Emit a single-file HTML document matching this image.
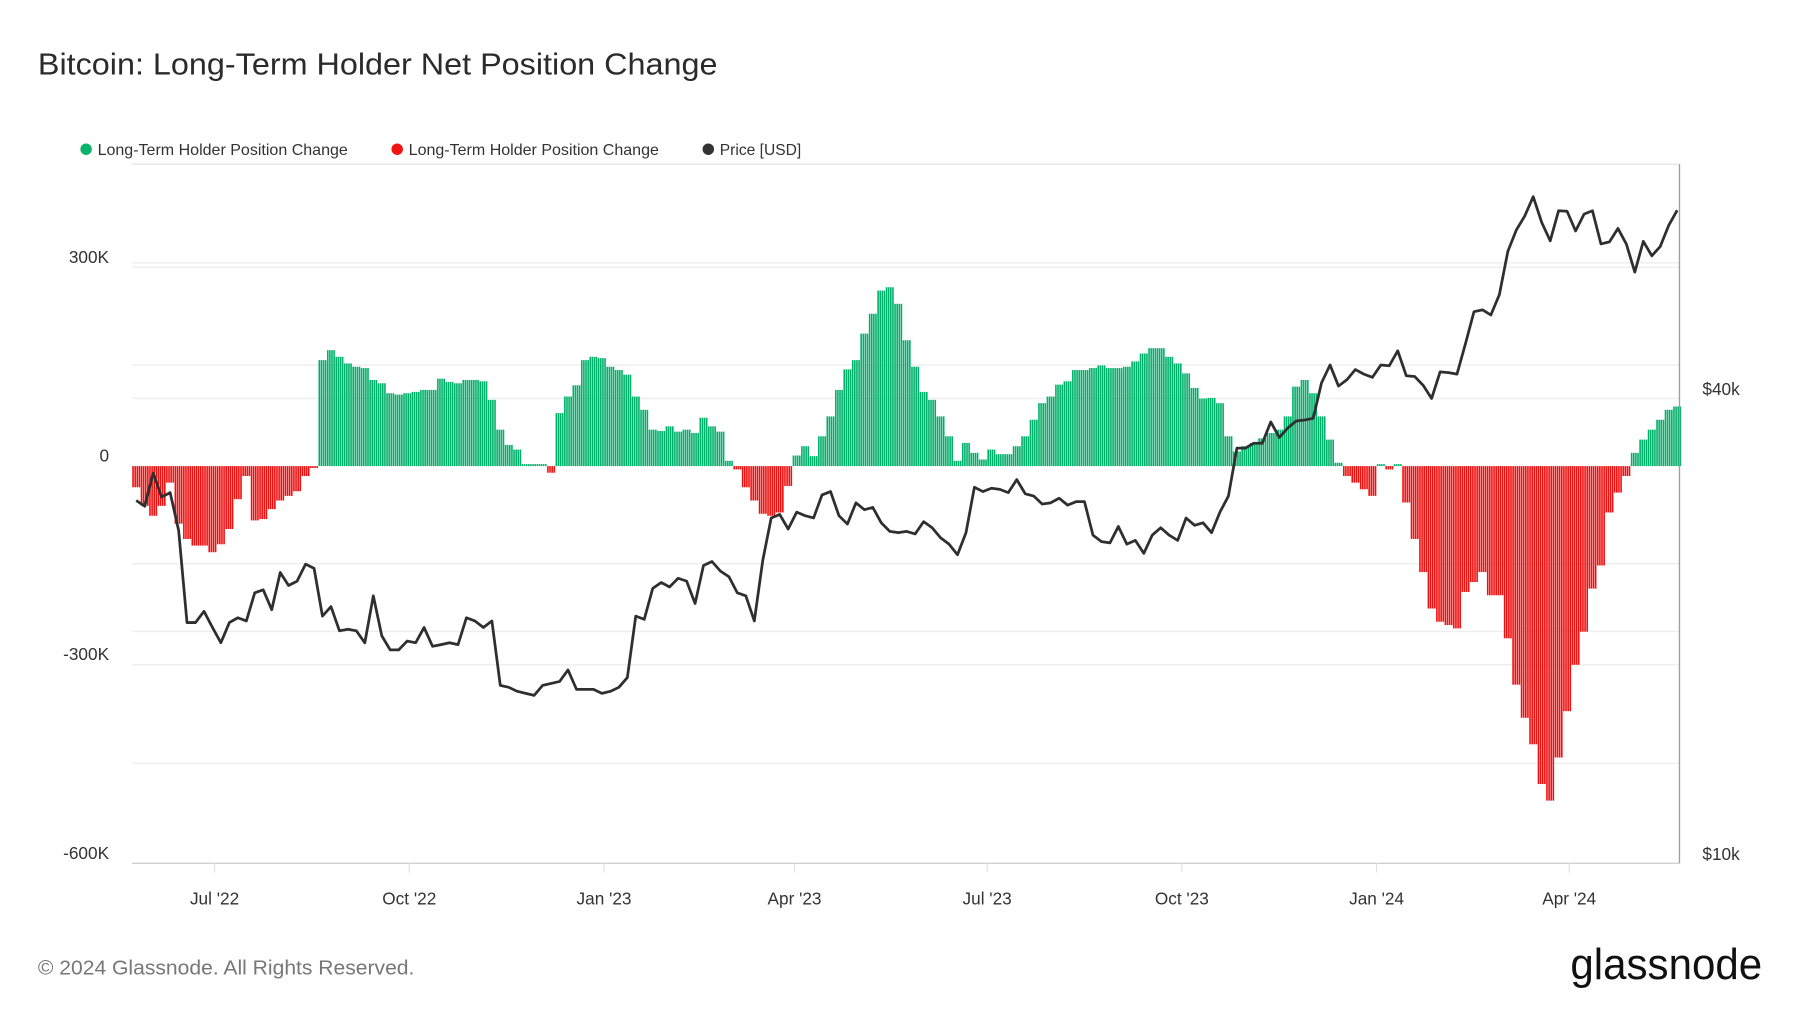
<!DOCTYPE html>
<html><head><meta charset="utf-8"><style>
html,body{margin:0;padding:0;background:#fff;width:1800px;height:1013px;overflow:hidden}
svg text{font-family:"Liberation Sans",Arial,sans-serif}
</style></head><body>
<svg id="chart" width="1800" height="1013" viewBox="0 0 1568 882.4" preserveAspectRatio="none" xmlns="http://www.w3.org/2000/svg">
<text x="33" y="65" font-size="26.5" fill="#2b2b2b" textLength="592" lengthAdjust="spacingAndGlyphs">Bitcoin: Long-Term Holder Net Position Change</text>
<g>
<g><circle cx="75" cy="130" r="5" fill="#0bb26b"/><text x="85" y="135" font-size="13.5" fill="#333" textLength="218" lengthAdjust="spacingAndGlyphs">Long-Term Holder Position Change</text></g>
<g><circle cx="346" cy="130" r="5" fill="#f01414"/><text x="356" y="135" font-size="13.5" fill="#333" textLength="218" lengthAdjust="spacingAndGlyphs">Long-Term Holder Position Change</text></g>
<g><circle cx="617" cy="130" r="5" fill="#333"/><text x="627" y="135" font-size="13.5" fill="#333" textLength="71" lengthAdjust="spacingAndGlyphs">Price [USD]</text></g>
</g>
<g id="grid"></g>
<g id="bars"></g>
<g id="price"></g>
<g id="axes"></g>
<text x="33" y="849" font-size="18" fill="#777" textLength="328" lengthAdjust="spacingAndGlyphs">© 2024 Glassnode. All Rights Reserved.</text>
<text x="1368" y="853" font-size="38" fill="#111" textLength="167" lengthAdjust="spacingAndGlyphs">glassnode</text>
</svg>
<script>
const changeValuesK = [-32,-60,-75,-60,-25,-87,-110,-120,-120,-130,-118,-95,-50,-15,-82,-80,-65,-52,-45,-38,-15,-3,160,175,165,155,150,148,130,125,110,108,110,112,115,115,132,127,125,130,130,128,100,55,32,25,3,3,3,-10,80,105,122,160,165,163,150,145,138,105,85,55,53,60,52,55,50,73,60,52,8,-5,-32,-52,-72,-75,-70,-30,16,30,15,45,75,115,146,160,200,230,265,270,245,190,150,112,100,75,45,8,35,20,10,25,18,18,30,45,70,95,105,123,128,145,145,148,152,148,148,150,158,170,178,178,165,155,140,118,102,103,95,45,22,30,35,42,50,55,75,120,130,110,75,40,5,-15,-25,-35,-45,3,-5,3,-55,-110,-160,-215,-235,-240,-245,-190,-175,-160,-195,-195,-260,-330,-380,-420,-480,-505,-440,-370,-300,-250,-185,-150,-70,-40,-15,20,40,55,70,85,90];
const priceUSDk = [29.5,29,32,29.8,30.2,27,20.5,20.5,21.2,20.2,19.3,20.5,20.8,20.6,22.4,22.6,21.3,23.8,22.9,23.2,24.4,24.1,20.9,21.5,20,20.1,20,19.3,22.2,19.7,18.9,18.9,19.4,19.3,20.2,19.1,19.2,19.3,19.2,20.8,20.6,20.2,20.6,17,16.9,16.7,16.6,16.5,17,17.1,17.2,17.8,16.8,16.8,16.8,16.6,16.7,16.9,17.4,20.9,20.7,22.7,23.1,22.8,23.4,23.2,21.7,24.3,24.6,23.9,23.5,22.4,22.2,20.6,24.7,28,28.3,27.1,28.5,28.2,28,30,30.3,28.2,27.5,29.3,28.7,28.9,27.6,26.9,26.8,26.9,26.7,27.7,27.2,26.4,25.9,25.1,26.8,30.7,30.3,30.6,30.5,30.2,31.4,30.1,29.9,29.2,29.3,29.7,29.1,29.4,29.4,26.6,26.1,26,27.3,25.9,26.2,25.2,26.6,27.2,26.6,26.2,28,27.4,27.6,26.8,28.5,29.9,34.5,34.5,35,35,37.3,35.6,36.6,37.4,37.5,37.7,41.9,44.2,41.5,42.3,43.6,43,42.6,44.2,44.1,46.1,42.8,42.7,41.6,40,43.3,43.2,43,47.1,51.8,52.1,51.3,54.5,62,66.1,68.9,73,67.6,64,70,69.9,65.9,69.3,70,63.4,63.8,66.4,63.4,58.3,63.9,61.2,62.9,67,70.1];
const leftTicksK = [300, 0, -300, -600];
const leftTickLabels = ["300K", "0", "-300K", "-600K"];
const rightTicksUSDk = [40, 10];
const rightTickLabels = ["$40k", "$10k"];
const xTickDays = [39, 131, 223, 313, 404, 496, 588, 679];
const xTickLabels = ["Jul '22", "Oct '22", "Jan '23", "Apr '23", "Jul '23", "Oct '23", "Jan '24", "Apr '24"];
const stepDays = 4;

const NS = "http://www.w3.org/2000/svg";
const X0 = 115, X1 = 1463, TOP = 143, BOT = 752, DAYPX = 673/365;
function xDay(d){ return X0 + d*DAYPX; }
function yLeft(v){ return 406 - v*0.577; }
function yRight(pk){ return 752 - 672.6*Math.log10(pk/10); }
function mk(tag, attrs, parent){ const e=document.createElementNS(NS,tag); for(const k in attrs) e.setAttribute(k,attrs[k]); parent.appendChild(e); return e; }

const grid = document.getElementById('grid');
const gridYs = [yLeft(300)-4, yLeft(300), 318, yRight(40), 491, 550, yLeft(-300), 665];
gridYs.forEach(y=>{
  const l = mk('line',{x1:X0,x2:X1,y1:y,y2:y,stroke:'#eeeeee','stroke-width':1.2},grid);
  
  
});
const topLine = mk('line',{x1:X0,x2:X1,y1:TOP,y2:TOP,stroke:'#e6e6e6','stroke-width':1.2},grid);



const bars = document.getElementById('bars');
changeValuesK.forEach((v,i)=>{
  for(let k=0;k<stepDays;k++){
    const d = i*stepDays + k;
    const x = xDay(d) + 0.2;
    const y0 = yLeft(0), y1 = yLeft(v);
    const r = mk('rect',{x:x, y:Math.min(y0,y1), width:1.4, height:Math.max(0.8,Math.abs(y1-y0)), fill: v>=0 ? '#00b06a' : '#f00f0f'},bars);
    
    
  }
});

const priceG = document.getElementById('price');
let dstr = '';
priceUSDk.forEach((p,i)=>{
  const x = xDay(i*stepDays + 2), y = yRight(p);
  dstr += (i? 'L':'M') + x.toFixed(1) + ' ' + y.toFixed(1);
});
const pl = mk('path',{d:dstr,fill:'none',stroke:'#2f2f2f','stroke-width':2.4,'stroke-linejoin':'round'},priceG);



const axes = document.getElementById('axes');
const bl = mk('line',{x1:X0,x2:X1,y1:BOT,y2:BOT,stroke:'#d0d0d0','stroke-width':1.2},axes);


const rl = mk('line',{x1:X1,x2:X1,y1:TOP,y2:BOT,stroke:'#a0a0a0','stroke-width':1.2},axes);


leftTicksK.forEach((v,i)=>{
  const t = mk('text',{x:95,y:yLeft(v)-4,'font-size':15,fill:'#333','text-anchor':'end'},axes);
  t.textContent = leftTickLabels[i];
  
  
});
rightTicksUSDk.forEach((p,i)=>{
  const t = mk('text',{x:1483,y:yRight(p)-3,'font-size':15,fill:'#333'},axes);
  t.textContent = rightTickLabels[i];
  
  
});
xTickDays.forEach((d,i)=>{
  const x = xDay(d);
  const tk = mk('line',{x1:x,x2:x,y1:BOT,y2:BOT+8,stroke:'#e0e0e0','stroke-width':1},axes);
  
  
  const t = mk('text',{x:x,y:788,'font-size':15,fill:'#333','text-anchor':'middle'},axes);
  t.textContent = xTickLabels[i];
  
  
});
</script>
</body></html>
